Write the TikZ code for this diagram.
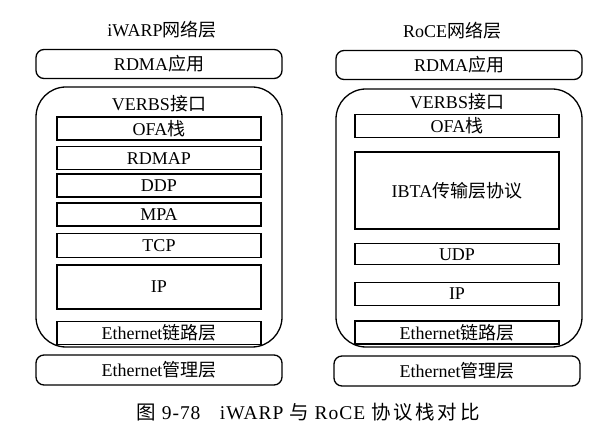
\documentclass[tikz,border=0pt]{standalone}
\usepackage{fontspec}
\setmainfont{Liberation Serif}
\newfontfamily\cjk{Noto Sans CJK SC}
\newfontfamily\cjkcap[LetterSpace=14]{Noto Sans CJK SC}
\usetikzlibrary{positioning}
\newcommand{\zh}[1]{{\cjk #1}}
\newcommand{\zhcap}[1]{{\cjkcap #1}}
\tikzstyle{layer} = [draw, line width=1.6pt, minimum width=204pt, minimum height=23pt, inner sep=0pt, text centered]
\tikzstyle{outer} = [draw, line width=1.3pt, rounded corners=8pt, minimum width=246pt, minimum height=29pt, inner sep=0pt, text centered]
\tikzstyle{stackbox} = [draw, line width=1.3pt, rounded corners=30pt, minimum width=246pt, inner sep=0pt]
\tikzstyle{label} = [inner sep=0pt, text centered]
\begin{document}
\begin{tikzpicture}[x=1pt, y=-1pt, font=\fontsize{18}{20}\selectfont]
\useasboundingbox (0,0) rectangle (610,438);

% iWARP stack =============================
\node[label] (title-left) at (162,30) {iWARP\zh{网络层}};
\node[outer] (rdma-left) at (159,64) {RDMA\zh{应用}};
\node[stackbox, minimum height=260pt] (stack-left) at (159,217) {};
\node[label] (verbs-left) at (159,104) {VERBS\zh{接口}};

\node[layer] (ofa-left) at (159,128.5) {OFA\zh{栈}};
\node[layer, below=5pt of ofa-left] (rdmap-left) {RDMAP};
\node[layer, below=3pt of rdmap-left] (ddp-left) {DDP};
\node[layer, below=4pt of ddp-left] (mpa-left) {MPA};
\node[layer, below=6pt of mpa-left, minimum height=24pt] (tcp-left) {TCP};
\node[layer, below=6pt of tcp-left, minimum height=44pt] (ip-left) {IP};
\node[layer, below=11pt of ip-left] (eth-left) {Ethernet\zh{链路层}};

\node[outer, minimum height=30pt] (mgmt-left) at (159,370) {Ethernet\zh{管理层}};

% RoCE stack =============================
\node[label] (title-right) at (452,31) {RoCE\zh{网络层}};
\node[outer] (rdma-right) at (459,65) {RDMA\zh{应用}};
\node[stackbox, minimum height=258pt] (stack-right) at (459,218) {};
\node[label] (verbs-right) at (457,102) {VERBS\zh{接口}};

\node[layer] (ofa-right) at (457,126) {OFA\zh{栈}};
\node[layer, below=13pt of ofa-right, minimum height=77pt] (ibta-right) {IBTA\zh{传输层协议}};
\node[layer, below=13pt of ibta-right, minimum height=21pt] (udp-right) {UDP};
\node[layer, below=16pt of udp-right] (ip-right) {IP};
\node[layer, below=14pt of ip-right] (eth-right) {Ethernet\zh{链路层}};

\node[outer, minimum height=30pt] (mgmt-right) at (457,371) {Ethernet\zh{管理层}};

% caption
\node[label, font=\fontsize{19.5}{22}\selectfont] (caption) at (308,412) {\addfontfeatures{LetterSpace=5}\zhcap{图} 9-78\quad iWARP \zhcap{与} RoCE \zhcap{协议栈对比}};

\end{tikzpicture}
\end{document}
